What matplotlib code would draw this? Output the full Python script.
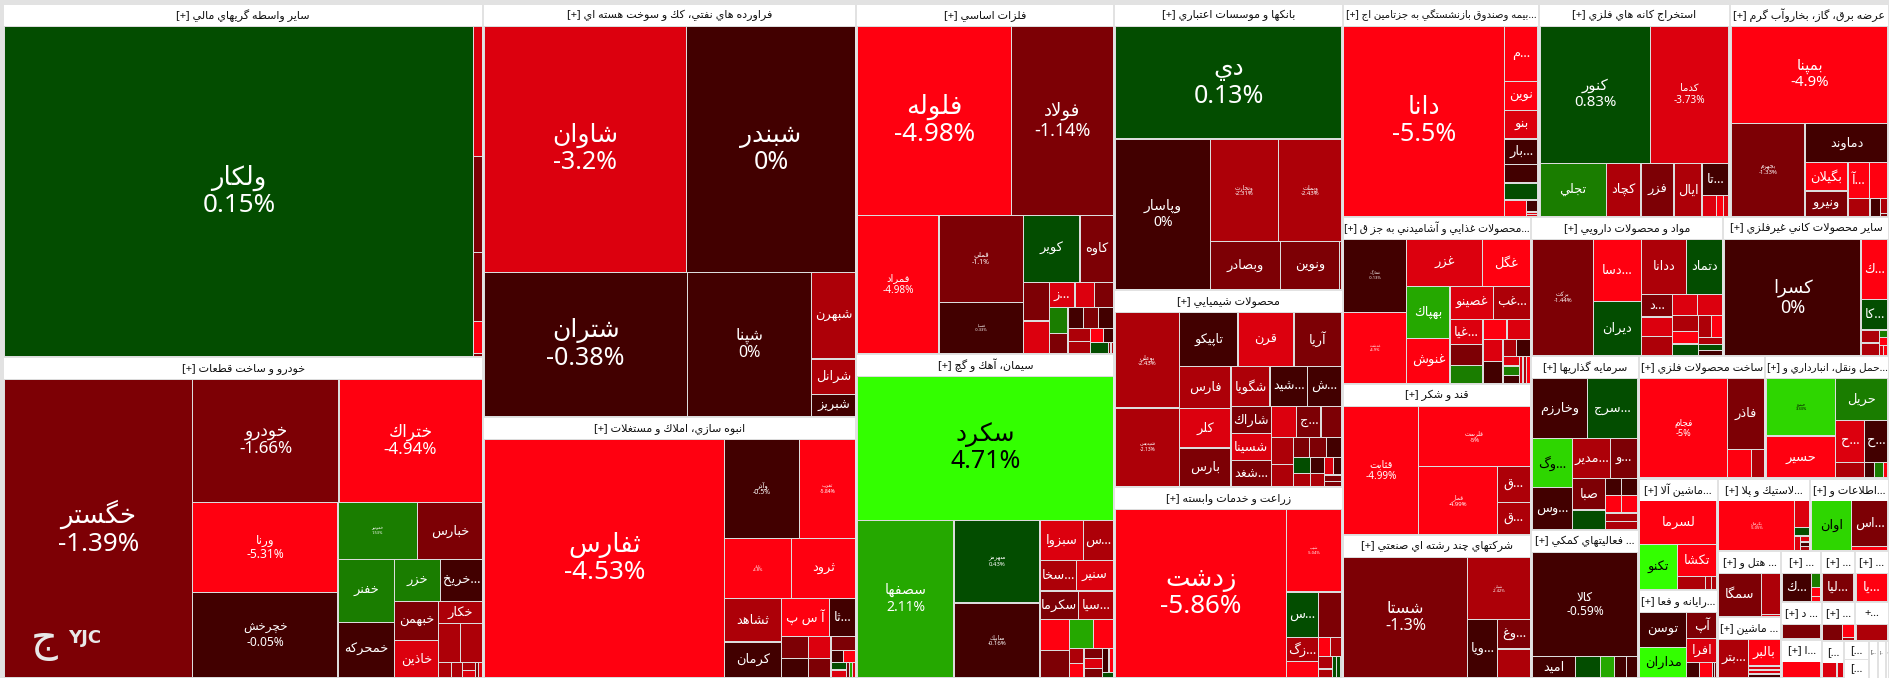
import matplotlib
matplotlib.use('Agg')
import matplotlib.pyplot as plt
from matplotlib.patches import Rectangle

# sector headers, sector market weights and how the sectors group into strips
sector_names = [
    'ساير واسطه گريهاي مالي', 'خودرو و ساخت قطعات',
    'فراورده هاي نفتي، كك و سوخت هسته اي', 'انبوه سازي، املاك و مستغلات',
    'فلزات اساسي', 'سيمان، آهك و گچ',
    'بانكها و موسسات اعتباري', 'محصولات شيميايي', 'زراعت و خدمات وابسته',
    '...بيمه وصندوق بازنشستگي به جزتامين اج', 'استخراج كانه هاي فلزي', 'عرضه برق، گاز، بخاروآب گرم',
    '...محصولات غذايي و آشاميدني به جز ق', 'قند و شكر', 'شركتهاي چند رشته اي صنعتي',
    'مواد و محصولات دارويي', 'ساير محصولات كاني غيرفلزي',
    'سرمايه گذاريها', '... فعاليتهاي كمكي',
    'ساخت محصولات فلزي', '...حمل ونقل، انبارداري و',
    '...ماشين آلا', '...رايانه و فعا',
    '...لاستيك و پلا', '...اطلاعات و',
    '... هتل و', '... ماشين',
    '...', '...', '...',
    '... د', '...ا',
    '...', '+...',
    '[...', '[...', '[...', '[...', '[...', '[...',
]
sector_values = [
    169440, 154080, 154049, 97353, 90300, 83592, 65351, 45015, 43644,
    41748, 40683, 33867, 31480, 28464, 26956, 26688, 23074, 18618, 15836,
    15494, 15128, 8848, 6952, 6696, 5688, 4221, 3843, 2040, 1734, 1734,
    1520, 1560, 1292, 1292, 836, 456, 456, 360, 300, 100,
]
sector_rows = [2, 2, 2, 3, 3, 3, 2, 2, 2, 2, 2, 2, 3, 2, 2, 1, 2, 3]

names_1 = ['ولكار', '', '', '', '', '']
values_1 = [1390950, 9750, 7125, 5125, 2375, 250]
changes_1 = [0.15, -3.2, -1.3, -1.3, -5, -1.3]
rows_1 = [1, 1, 1, 1, 1, 1]

names_2 = ['خگستر', 'خودرو', 'ختراك', 'ورنا', 'خچرخش', 'خموتور', 'خبارس', 'خفنر', 'خمحركه', 'خزر', '...خريخ',
           'خبهمن', 'خاذين', 'خكار', '', '', '', '', '', '', '', '']
values_2 = [500640, 160379, 157076, 116100, 109650, 40320, 32760, 31584, 27720, 17112, 15500,
            15210, 14300, 8778, 7705, 7590, 1760, 1408, 836, 836, 440, 440]
changes_2 = [-1.39, -1.66, -4.94, -5.31, -0.05, 1.53, -1.3, 1.4, -0.3, 1.4, -0.3,
             -1.3, -3.4, -2.4, -2.4, -2.4, -2.4, -2.4, -2.4, -3.4, -1.3, -3.4]
rows_2 = [1, 2, 2, 2, 2, 2, 2, 1, 2, 1, 1, 2, 2]

names_3 = ['شاوان', 'شبندر', 'شتران', 'شپنا', 'شبهرن', 'شرانل', 'شبريز']
values_3 = [444198, 369432, 260580, 159960, 33410, 13650, 8580]
changes_3 = [-3.2, 0, -0.38, 0, -2.4, -2.4, -0.3]
rows_3 = [2, 1, 1, 1, 1, 1]

names_4 = ['ثفارس', 'وآذر', 'ثغرب', 'ثاباد', 'ثرود', 'ثشاهد', 'كرمان', 'آ س پ', '...ثا',
           '', '', '', '', '', '', '', '', '', '', '', '']
values_4 = [511928, 66375, 49560, 35956, 34176, 22440, 18190, 16046, 8814,
            5440, 4480, 4488, 3696, 3108, 1295, 1225, 1080, 1035, 405, 405, 405]
changes_4 = [-4.53, -0.5, -5.84, -4.8, -5, -2.4, -0.3, -5, -0.3,
             -1.3, -0.3, -3.4, -1.3, -1.3, -0.3, -5, 0.3, -3.4, -1.3, 2.1, -3.4]
rows_4 = [1, 2, 2, 2, 2, 2, 2, 1, 2, 2, 3]

names_5 = ['فلوله', 'فولاد', 'فمراد', 'فملي', 'فسپا', 'كوير', 'كاوه', '', '', '...ز', '', '',
           '', '', '', '', '', '', '', '', '', '', '', '']
values_5 = [256480, 169680, 99303, 64714, 37791, 33490, 19700, 8732, 7400, 5772, 4292, 4218,
            4290, 3300, 2820, 2760, 2640, 2508, 2376, 1600, 1200, 1855, 234, 234]
changes_5 = [-4.98, -1.14, -4.98, -1.1, -0.33, 0.3, -1.3, -1.3, -3.4, -3.4, -3.4, -1.3,
             1.4, -1.3, -0.3, -1.3, -0.3, -2.4, -2.4, -5, -0.3, 0.3, -1.3, -2.4]
rows_5 = [2, 1, 2, 2, 2, 3, 2, 3, 2, 2, 1, 2]

names_6 = ['سكرد', 'سصفها', 'سهرمز', 'سابيك', 'سبزوا', '...س', '...سخا', 'سنير', 'سكرما', '...سيا',
           '', '', '', '', '', '', '', '', '', '', '', '']
values_6 = [324700, 133668, 62248, 56224, 15295, 10465, 9856, 9944, 9676, 8692,
            7954, 6970, 6240, 4960, 1976, 1824, 1650, 1650, 1500, 1300, 900, 500]
changes_6 = [4.71, 2.11, 0.43, -0.16, -3.4, -2.4, -2.4, -3.4, -1.3, -2.4,
             -5, -1.3, 2.1, -5, -2.4, -5, -1.3, -3.4, -1.3, -0.3, -5, 0.3]
rows_6 = [1, 1, 2, 2, 2, 2, 2, 2, 2, 3, 2, 2]

names_7 = ['دي', 'وپاسار', 'وتجارت', 'وبملت', 'وبصادر', 'ونوين', '']
values_7 = [227800, 126900, 62220, 57950, 30030, 25025, 1001]
changes_7 = [0.13, 0, -2.31, -2.43, -1.3, -1.3, -1.3]
rows_7 = [1, 1, 2, 1, 1, 1]

names_8 = ['بوعلي', 'شپديس', 'تاپيكو', 'قرن', 'آريا', 'فارس', 'كلر', 'بارس', 'شگويا', '...شيد', '...ش',
           'شاراك', 'شسينا', '...شغد', '', '...ج', '', '', '', '', '', '', '', '', '', '', '', '', '', '']
values_8 = [53382, 43710, 27632, 26376, 22608, 18900, 17700, 17250, 13570, 12880, 12075,
            9794, 9440, 9204, 6750, 6570, 5670, 5208, 4154, 2760, 3000, 2700, 2300, 1932,
            1976, 1596, 1320, 1240, 924, 792]
changes_8 = [-2.43, -2.13, -0.3, -3.4, -1.3, -2.4, -3.4, -1.3, -2.4, -0.3, -0.3,
             -1.3, -3.4, -1.3, -3.4, -1.3, -1.3, -2.4, -2.4, -1.3, -1.3, -0.3, 0.3, -2.4,
             -0.3, -2.4, -3.4, -0.3, -1.3, -1.3]
rows_8 = [2, 3, 3, 3, 3, 3, 2, 3, 2, 2, 2, 2]

names_9 = ['زدشت', 'شيب', '...س', '', '...زگ', '', '', '', '', '', '', '', '']
values_9 = [256540, 40824, 12960, 9450, 6840, 4560, 1980, 1870, 1596, 1050, 700, 700, 336]
changes_9 = [-5.86, -5.04, 0.3, -1.3, -2.4, -5, -5, -2.4, -2.4, -2.4, 0.3, 0.3, -5]
rows_9 = [1, 1, 2, 2, 2, 2, 3]

names_10 = ['دانا', '...م', 'نوين', 'بنو', '...بار', '', '', '', '', '', '']
values_10 = [259350, 15485, 8075, 8075, 7125, 5225, 4750, 3000, 1188, 224, 224]
changes_10 = [-5.5, -5, -5, -3.4, -0.3, -0.3, 0.3, -5, -0.3, -3.4, -3.4]
rows_10 = [1, 1, 1, 1, 1, 1, 1, 1, 1, 2]

names_11 = ['كنور', 'كدما', 'تجلي', 'كچاد', 'فزر', 'ايال', '...تا', '', '', '']
values_11 = [126984, 90354, 29600, 15520, 14720, 12480, 7238, 2560, 1330, 910]
changes_11 = [0.83, -3.73, 1.4, -2.4, -1.3, -2.4, -0.3, -3.4, -5, -3.4]
rows_11 = [2, 1, 1, 1, 1, 1, 1, 2]

names_12 = ['بمپنا', 'بجهرم', 'دماوند', 'بگيلان', 'ونيرو', '...آ', '', '', '', '', '']
values_12 = [127872, 57605, 27255, 10200, 9240, 6420, 5671, 3240, 1590, 900, 160]
changes_12 = [-4.9, -1.33, -0.3, -5, -1.3, -5, -5, -2.4, -0.3, -2.4, -1.3]
rows_12 = [1, 1, 1, 2, 2, 1, 1, 1, 1]

names_13 = ['غمارگ', 'غدشت', 'غزر', 'غگل', 'بهپاك', 'غنوش', 'غصينو', '...غب', '...غيا',
            '', '', '', '', '', '', '', '', '', '', '', '', '', '']
values_13 = [37060, 36040, 28595, 18354, 18055, 15755, 11430, 9900, 6699, 5481, 4785,
             3900, 3796, 3600, 3500, 1920, 1920, 1216, 1254, 1064, 800, 800, 800]
changes_13 = [-0.13, -4.9, -3.4, -5, 2.1, -5, -3.4, -2.4, -3.4, -1.3, 1.4,
              -5, -3.4, -3.4, -0.3, -2.4, -0.3, -3.4, 1.4, -0.3, -3.4, -2.4, -5]
rows_13 = [2, 2, 2, 2, 3, 2, 2, 2, 3, 3]

names_14 = ['قثابت', 'قلرست', 'قمار', '...ق', '...ق']
values_14 = [9600, 6780, 5304, 1188, 1056]
changes_14 = [-4.99, -5, -4.99, -2.4, -2.4]
rows_14 = [1, 1, 1, 1, 1]

names_15 = ['شستا', 'شپلي', '...ويا', '...وغ', '']
values_15 = [14883, 3968, 1770, 960, 928]
changes_15 = [-1.3, -2.42, -0.3, -1.3, -2.4]
rows_15 = [1, 1, 1, 1, 1]

names_16 = ['بركت', '...دسا', 'ديران', 'ددانا', 'دتماد', '...د', '', '', '', '', '', '', '', '', '', '', '', '']
values_16 = [52785, 22448, 19276, 18500, 14800, 5250, 4500, 4500, 3900, 3796, 3135, 2394, 2280,
             2021, 1806, 1260, 1008, 945]
changes_16 = [-1.44, -5, 0.3, -2.4, 0.3, -1.3, -3.4, -2.4, -3.4, -3.4, -2.4, -5, 0.3,
              -2.4, -5, -2.4, 0.3, -0.3]
rows_16 = [1, 2, 2, 3, 2, 3, 2, 3]

names_17 = ['كسرا', '...ك', '...كا', '', '', '', '', '', '']
values_17 = [141450, 14514, 7216, 2090, 2035, 600, 600, 400, 400]
changes_17 = [0, -5, 0.3, -2.4, -2.4, 1.4, -5, -3.4, -5]
rows_17 = [1, 1, 1, 2, 1, 1, 2]

names_18 = ['وخارزم', '...سرج', '...وگ', '...وس', '...مدير', '...و', 'صبا', '', '', '', '', '', '', '']
values_18 = [3080, 2800, 1800, 1548, 1400, 980, 972, 594, 260, 260, 260, 260, 260, 240]
changes_18 = [-0.3, 0.3, 3.3, -0.3, -2.4, -1.3, -1.3, 0.3, -0.3, -0.3, -5, -5, -2.4, -2.4]
rows_18 = [2, 2, 2, 2, 2, 2, 2]

names_19 = ['كالا', 'اميد', '', '', '', '']
values_19 = [101124, 8250, 4950, 2640, 2310, 2178]
changes_19 = [-0.59, -0.3, 0.3, 2.1, -0.3, -0.3]
rows_19 = [1, 1, 1, 1, 1, 1]

names_20 = ['فجام', 'فاذر', '', '']
values_20 = [72000, 21630, 5742, 2958]
changes_20 = [-5, -1.3, -5, -2.4]
rows_20 = [1, 1, 1, 1]

names_21 = ['حپترو', 'حسير', 'حريل', '...ح', '...ح', '', '', '', '']
values_21 = [33368, 24250, 18178, 10000, 8250, 3760, 1344, 1140, 600]
changes_21 = [3.33, -5, 1.4, -3.4, -0.3, -2.4, -0.3, 1.4, -5]
rows_21 = [2, 1, 2, 1, 1, 2]

names_22 = ['لسرما', 'تكنو', 'تكشا', '', '', '']
values_22 = [29380, 14960, 10830, 3280, 640, 640]
changes_22 = [-5, 4.7, -5, -2.4, -2.4, -2.4]
rows_22 = [1, 1, 1, 1, 2]

names_23 = ['توسن', 'مداران', 'آپ', 'افرا', '', '', '', '']
values_23 = [14175, 12015, 6675, 6230, 1628, 1628, 286, 286]
changes_23 = [-0.3, 4.7, -1.3, -3.4, -0.3, -5, -0.3, -1.3]
rows_23 = [2, 1, 1, 1, 1, 2]

names_24 = ['پكرمان', '', '', '', '', '', '']
values_24 = [32856, 3420, 1125, 774, 450, 310, 310]
changes_24 = [-5.05, -3.4, 0.3, -3.4, -3.4, -0.3, -2.4]
rows_24 = [1, 1, 1, 1, 1, 2]

names_25 = ['اوان', '...اس', '']
values_25 = [17464, 14580, 1296]
changes_25 = [3.3, -1.3, -5]
rows_25 = [1, 1, 1]

names_26 = ['سمگا', '', '']
values_26 = [16625, 7125, 400]
changes_26 = [-1.3, -2.4, -3.4]
rows_26 = [1, 1, 1]

names_27 = ['...بتر', 'بالبر', '', '', '']
values_27 = [9775, 7410, 1120, 1120, 980]
changes_27 = [-2.4, -5, -3.4, -3.4, -0.3]
rows_27 = [1, 1, 3]

names_28 = ['...ك', '', '', '']
values_28 = [7055, 1080, 702, 351]
changes_28 = [-0.3, 1.4, -5, -5]
rows_28 = [1, 1, 1, 1]

names_29 = ['...ليا']
values_29 = [100]
changes_29 = [-1.3]
names_30 = ['...يا']
values_30 = [100]
changes_30 = [-5]
names_31 = ['']
values_31 = [100]
changes_31 = [-1.3]
names_32 = ['']
values_32 = [100]
changes_32 = [-5]
names_33 = ['', '', '']
values_33 = [60, 30, 5]
changes_33 = [-1.3, -5, -2.4]
rows_33 = [1, 1, 1]
names_34 = ['']
values_34 = [100]
changes_34 = [-2.4]
names_35 = ['', '']
values_35 = [40, 18]
changes_35 = [-3.4, -3.4]
rows_35 = [1, 1]

stock_names = [names_1, names_2, names_3, names_4, names_5, names_6, names_7, names_8, names_9, names_10,
               names_11, names_12, names_13, names_14, names_15, names_16, names_17, names_18, names_19, names_20,
               names_21, names_22, names_23, names_24, names_25, names_26, names_27, names_28, names_29, names_30,
               names_31, names_32, names_33, names_34, names_35]
stock_values = [values_1, values_2, values_3, values_4, values_5, values_6, values_7, values_8, values_9, values_10,
                values_11, values_12, values_13, values_14, values_15, values_16, values_17, values_18, values_19, values_20,
                values_21, values_22, values_23, values_24, values_25, values_26, values_27, values_28, values_29, values_30,
                values_31, values_32, values_33, values_34, values_35]
stock_changes = [changes_1, changes_2, changes_3, changes_4, changes_5, changes_6, changes_7, changes_8, changes_9, changes_10,
                 changes_11, changes_12, changes_13, changes_14, changes_15, changes_16, changes_17, changes_18, changes_19, changes_20,
                 changes_21, changes_22, changes_23, changes_24, changes_25, changes_26, changes_27, changes_28, changes_29, changes_30,
                 changes_31, changes_32, changes_33, changes_34, changes_35]
stock_rows = [rows_1, rows_2, rows_3, rows_4, rows_5, rows_6, rows_7, rows_8, rows_9, rows_10,
              rows_11, rows_12, rows_13, rows_14, rows_15, rows_16, rows_17, rows_18, rows_19, rows_20,
              rows_21, rows_22, rows_23, rows_24, rows_25, rows_26, rows_27, rows_28, [1], [1],
              [1], [1], rows_33, [1], rows_35]

# label styling: text height in pixels, tiles listed here also show the percent line
label_px = {
    'ولكار': 26, 'خگستر': 26, 'خودرو': 17, 'ختراك': 17, 'ورنا': 12, 'خچرخش': 12, 'خموتور': 4,
    'شاوان': 25, 'شبندر': 25, 'شتران': 25, 'شپنا': 16,
    'ثفارس': 26, 'وآذر': 7, 'ثغرب': 5, 'ثاباد': 4,
    'فلوله': 26, 'فولاد': 18, 'فمراد': 10, 'فملي': 7, 'فسپا': 4,
    'سكرد': 25, 'سصفها': 14, 'سهرمز': 6, 'سابيك': 6,
    'دي': 25, 'وپاسار': 14, 'وتجارت': 6, 'وبملت': 6,
    'بوعلي': 6, 'شپديس': 5, 'زدشت': 26, 'شيب': 4,
    'دانا': 25, 'كنور': 15, 'كدما': 10, 'بمپنا': 15, 'بجهرم': 6,
    'غمارگ': 4, 'غدشت': 4, 'قثابت': 10, 'قلرست': 6, 'قمار': 6, 'شستا': 16, 'شپلي': 4,
    'بركت': 6, 'كسرا': 18, 'كالا': 12, 'فجام': 9, 'حپترو': 4, 'پكرمان': 4,
}
default_px = 13

STEPS = [(3.5, '#33ff00'), (2.5, '#2ed600'), (1.75, '#25a800'), (1, '#1a7d00'), (1e-9, '#034d00'),
         (-1, '#420000'), (-2, '#7d0005'), (-3, '#ad0008'), (-4, '#dc000e')]

JOIN_BOTH = {'ب': 0xFE8F, 'ت': 0xFE95, 'ث': 0xFE99, 'ج': 0xFE9D, 'ح': 0xFEA1, 'خ': 0xFEA5, 'س': 0xFEB1,
             'ش': 0xFEB5, 'ص': 0xFEB9, 'ض': 0xFEBD, 'ط': 0xFEC1, 'ظ': 0xFEC5, 'ع': 0xFEC9, 'غ': 0xFECD,
             'ف': 0xFED1, 'ق': 0xFED5, 'ك': 0xFED9, 'ل': 0xFEDD, 'م': 0xFEE1, 'ن': 0xFEE5, 'ه': 0xFEE9,
             'ي': 0xFEF1, 'ی': 0xFBFC, 'پ': 0xFB56, 'چ': 0xFB7A, 'ک': 0xFB8E, 'گ': 0xFB92}
JOIN_RIGHT = {'ا': 0xFE8D, 'آ': 0xFE81, 'د': 0xFEA9, 'ذ': 0xFEAB, 'ر': 0xFEAD, 'ز': 0xFEAF, 'و': 0xFEED, 'ژ': 0xFB8A}
LAM_ALEF = {'ا': 0xFEFB, 'آ': 0xFEF5}


def fa(text):
    # matplotlib has no Arabic shaping, so pick the joined forms and reverse for display
    letters = []
    for c in text:
        if letters and letters[-1] == 'ل' and c in LAM_ALEF:
            letters[-1] = 'ل' + c
        else:
            letters.append(c)
    out = []
    for i, c in enumerate(letters):
        before = i > 0 and letters[i - 1] in JOIN_BOTH
        after = i + 1 < len(letters) and (letters[i + 1] in JOIN_BOTH or letters[i + 1] in JOIN_RIGHT
                                          or letters[i + 1][0] == 'ل')
        if len(c) == 2:
            out.append(chr(LAM_ALEF[c[1]] + (1 if before else 0)))
        elif c in JOIN_BOTH:
            offset = {(False, False): 0, (True, False): 1, (False, True): 2, (True, True): 3}[(before, after)]
            out.append(chr(JOIN_BOTH[c] + offset))
        elif c in JOIN_RIGHT:
            out.append(chr(JOIN_RIGHT[c] + (1 if before else 0)))
        else:
            out.append(c)
    return ''.join(reversed(out))


def colour_for(change):
    for limit, colour in STEPS:
        if change >= limit:
            return colour
    return '#ff0010'


def lay_out(values, rows, x0, y0, x1, y1):
    # squarified strips: always fill along the shorter side of what is left
    rects = []
    total = sum(values)
    i = 0
    for n in rows:
        group = values[i:i + n]
        share = sum(group) / total
        dx, dy = x1 - x0, y1 - y0
        if dx < dy:
            h = dy * share
            x = x0
            for v in group:
                w = dx * v / sum(group)
                rects.append((x, y0, x + w, y0 + h))
                x += w
            y0 += h
        else:
            w = dx * share
            y = y0
            for v in group:
                h = dy * v / sum(group)
                rects.append((x0, y, x0 + w, y + h))
                y += h
            x0 += w
        total -= sum(group)
        i += n
    return rects


FONT = ['Noto Sans', 'DejaVu Sans']
fig = plt.figure(figsize=(18.89, 6.78), dpi=100, facecolor='#e2e2e2')
ax = fig.add_axes([0, 0, 1, 1])
ax.set_xlim(0, 1889)
ax.set_ylim(678, 0)
ax.axis('off')
renderer = fig.canvas.get_renderer()

sector_boxes = lay_out(sector_values, sector_rows, 3, 4, 1889, 678)
for s, (x0, y0, x1, y1) in enumerate(sector_boxes):
    x0, y0, x1, y1 = x0 + 1, y0 + 1, x1 - 1, y1 - 0.5
    head = min(21, y1 - y0)
    ax.add_patch(Rectangle((x0, y0), x1 - x0, y1 - y0, fc='#ffffff' if s >= len(stock_names) else '#dcdcdc', lw=0))
    ax.add_patch(Rectangle((x0, y0), x1 - x0, head, fc='#ffffff', lw=0))
    title = sector_names[s]
    title = title if title[0] in '[+' else '[+] ' + fa(title)
    t = ax.text((x0 + x1) / 2, y0 + head / 2, title, fontsize=8, family=FONT, color='#111111', ha='center', va='center')
    # long headers shrink to stay inside their own sector
    width = t.get_window_extent(renderer).width
    if width > x1 - x0 - 2:
        t.set_fontsize(8 * (x1 - x0 - 2) / width)
    if s >= len(stock_names):
        continue
    cells = lay_out(stock_values[s], stock_rows[s], x0, y0 + head, x1, y1)
    for name, change, (a, b, c, d) in zip(stock_names[s], stock_changes[s], cells):
        ax.add_patch(Rectangle((a + 0.6, b + 0.6), c - a - 1.2, d - b - 1.2, fc=colour_for(change), lw=0))
        if not name:
            continue
        label = fa(name)
        px = label_px.get(name, default_px)
        if name in label_px:
            label += '\n' + f'{change:g}%'
        ink = '#000000' if change >= 3 else '#ffffff'
        t = ax.text((a + c) / 2, (b + d) / 2, label, fontsize=px * 0.72, family=FONT, color=ink,
                    ha='center', va='center', linespacing=1.12)
        width = t.get_window_extent(renderer).width
        if width > c - a - 2:
            t.set_fontsize(px * 0.72 * (c - a - 2) / width)

# site watermark in the big automotive tile
ax.text(44, 640, fa('ج'), fontsize=30, family=FONT, color='#e8e8e8', ha='center', va='center')
ax.text(85, 638, 'YJC', fontsize=13, family='DejaVu Sans', weight='bold', color='#e8e8e8', ha='center', va='center')

fig.savefig('out.png', dpi=100, facecolor=fig.get_facecolor())
